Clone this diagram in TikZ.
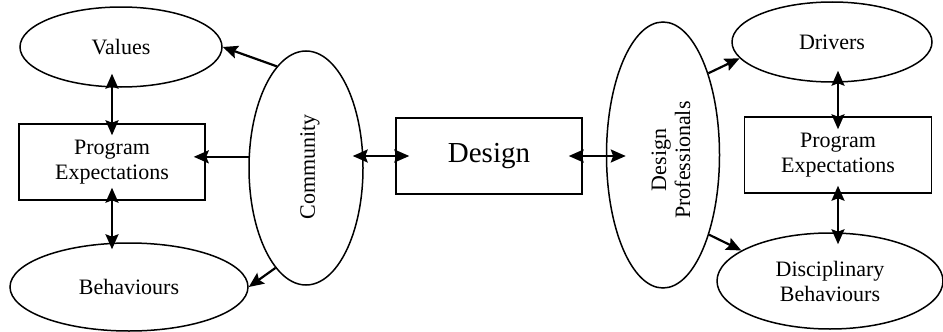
\documentclass[tikz,border=0pt]{standalone}
\usepackage{fontspec}
\setmainfont{Liberation Serif}
\usetikzlibrary{shapes.geometric,arrows.meta}
\begin{document}
\begin{tikzpicture}[x=1pt,y=-1pt,
  ell/.style={draw,ellipse,line width=1.5pt,inner sep=0pt,align=center,
    font=\fontsize{22}{25}\selectfont},
  boxn/.style={draw,rectangle,line width=1.5pt,inner sep=0pt,align=center,
    font=\fontsize{22}{25}\selectfont},
  tip/.tip={Stealth[length=15pt,width=13pt,inset=2.5pt]},
  arr/.style={line width=2.2pt,-tip},
  dbl/.style={line width=2.2pt,tip-tip}]
\useasboundingbox (0,0) rectangle (943,332);
% left side
\node[ell,minimum width=202pt,minimum height=80pt] (values) at (121,47) {Values};
\node[boxn,minimum width=186pt,minimum height=76pt] (pe) at (112,162) {Program\\Expectations};
\node[ell,minimum width=238pt,minimum height=88pt] (beh) at (129,287) {Behaviours};
\node[ell,minimum width=114pt,minimum height=234pt] (comm) at (306,168) {};
\node[rotate=90,font=\fontsize{22}{25}\selectfont] (commt) at (310,167) {Community};
% centre
\node[boxn,minimum width=186pt,minimum height=76pt,font=\fontsize{29}{33}\selectfont] (design) at (489,156) {Design};
% right side
\node[ell,minimum width=113pt,minimum height=266pt] (dp) at (663,155) {};
\node[rotate=90,align=center,font=\fontsize{22}{24}\selectfont] (dpt) at (671,160) {Design\\Professionals};
\node[ell,minimum width=200pt,minimum height=80pt] (drivers) at (832,42) {Drivers};
\node[boxn,minimum width=187pt,minimum height=76pt] (pe2) at (838,155) {Program\\Expectations};
\node[ell,minimum width=226pt,minimum height=96pt] (db) at (830,281) {Disciplinary\\Behaviours};
% connectors left
\draw[dbl,shorten <=-14pt,shorten >=-12pt] (pe.north |- values.south) -- (pe.north);
\draw[dbl,shorten <=-13pt,shorten >=-7pt] (pe.south) -- (pe.south |- beh.north);
\draw[arr] (comm.106) -- (values.east);
\draw[arr,shorten >=-12pt] (comm.169) -- (pe.east |- comm.169);
\draw[arr] (comm.253) -- (beh.east);
% centre
\draw[dbl,shorten <=-11pt,shorten >=-14pt] (comm.east |- design.west) -- (design.west);
\draw[dbl,shorten <=-14pt,shorten >=-20pt] (design.east) -- (dp.west |- design.east);
% right
\draw[arr] (dp.61) -- (drivers.190);
\draw[arr] (dp.300) -- (db.161);
\draw[dbl,shorten <=-12pt,shorten >=-13pt] (pe2.north |- drivers.south) -- (pe2.north);
\draw[dbl,shorten <=-8pt,shorten >=-12pt] (pe2.south) -- (pe2.south |- db.north);
\end{tikzpicture}
\end{document}
